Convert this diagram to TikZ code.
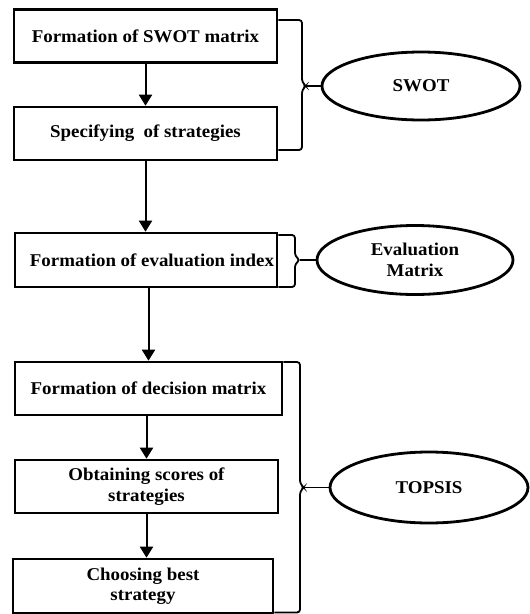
\documentclass[tikz,border=0pt]{standalone}
\usepackage{fontspec}
\setmainfont[FakeStretch=1.05]{Liberation Serif}
\usetikzlibrary{arrows.meta,shapes.geometric}
\begin{document}
\begin{tikzpicture}[x=1pt,y=-1pt,
  box/.style={draw,line width=2.6pt,minimum width=263pt,minimum height=53pt,inner sep=0pt,align=center,font=\bfseries\fontsize{18}{20.5}\selectfont},
  oval/.style={ellipse,draw,line width=2.8pt,minimum width=198pt,minimum height=68pt,inner sep=0pt,align=center,font=\bfseries\fontsize{18}{20.5}\selectfont},
  arr/.style={line width=2pt,-{Triangle[width=13pt,length=11pt]}},
  brace/.style={line width=1.8pt,rounded corners=3pt},
  link/.style={line width=1.8pt}]
\useasboundingbox (0,0) rectangle (530,614);
% boxes
\node[box] (s1) at (145.5,36) {Formation of SWOT matrix};
\node[box] (s2) at (145.5,133.5) {Specifying\ \ of strategies};
\node[box,minimum width=262pt,minimum height=54pt] (s3) at (146,260) {\hspace*{12pt}Formation of evaluation index};
\node[box,minimum width=267pt] (s4) at (148.5,388.5) {Formation of decision matrix};
\node[box] (s5) at (146.5,486.5) {Obtaining scores of\\strategies};
\node[box,minimum width=260pt,minimum height=54pt] (s6) at (143,586) {Choosing best\\strategy};
% ellipses
\node[oval] (e1) at (421,86) {SWOT};
\node[oval,minimum width=196pt,minimum height=69pt] (e2) at (415,260) {Evaluation\\Matrix};
\node[oval,minimum height=71pt] (e3) at (429,487.5) {TOPSIS};
% arrows
\draw[arr] (s1.south) -- (s1.south |- s2.north);
\draw[arr] (s2.south) -- (s2.south |- s3.north);
\draw[arr] (s4.north |- s3.south) -- (s4.north);
\draw[arr] (s5.north |- s4.south) -- (s5.north);
\draw[arr] (s5.south) -- (s5.south |- s6.north);
% braces
\coordinate (t1) at (306,86);
\coordinate (t2) at (300,260);
\coordinate (t3) at (304,487.5);
\draw[brace] (s1.east |- 0,20) -- (302,20) -- (302,82) -- (t1) -- (302,90) -- (302,150) -- (s2.east |- 0,150);
\draw[link] (t1) -- (e1.west);
\draw[brace] (s3.east |- 0,235) -- (295,235) -- (295,256) -- (t2) -- (295,264) -- (295,287) -- (s3.east |- 0,287);
\draw[link] (t2) -- (e2.west);
\draw[brace] (s4.east |- 0,362) -- (300,362) -- (300,483.5) -- (t3) -- (300,491.5) -- (300,612.5) -- (s6.east |- 0,612.5);
\draw[link] (t3) -- (e3.west);
\end{tikzpicture}
\end{document}
